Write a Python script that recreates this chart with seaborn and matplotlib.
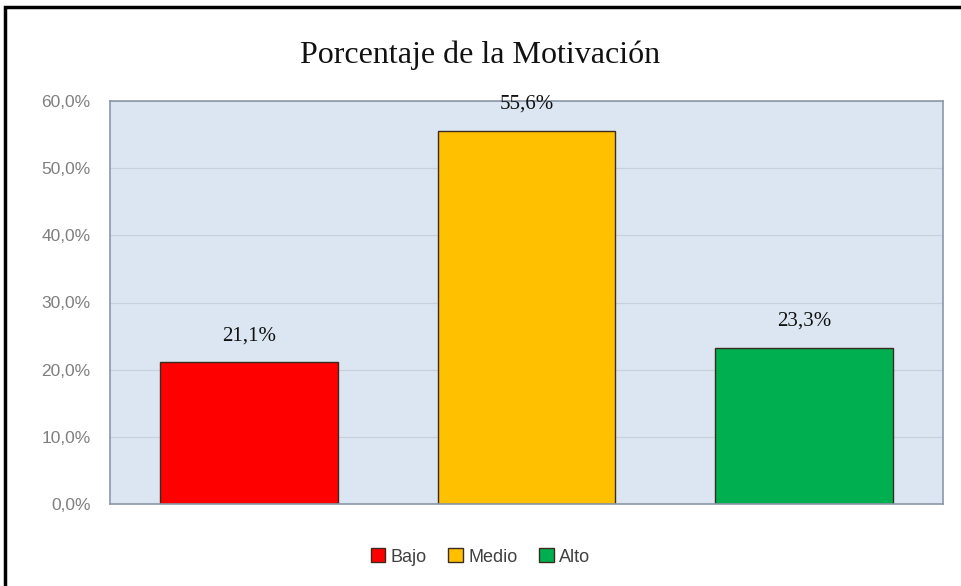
import pandas as pd
import matplotlib
matplotlib.use("Agg")
import matplotlib.pyplot as plt
from matplotlib.ticker import FuncFormatter, MultipleLocator
from matplotlib.patches import Rectangle
import seaborn as sns

# Data
niveles = ["Bajo", "Medio", "Alto"]
porcentajes = [21.1, 55.6, 23.3]
etiquetas = ["21,1%", "55,6%", "23,3%"]
colores = ["#FF0000", "#FFC000", "#00B050"]

data = pd.DataFrame({"Nivel": niveles, "Porcentaje": porcentajes})

sns.set_style("white")
plt.rcParams["font.family"] = ["Liberation Sans", "DejaVu Sans"]

fig = plt.figure(figsize=(9.61, 5.86), dpi=100)
ax = fig.add_axes([110 / 961, 82 / 586, 833 / 961, 403 / 586])

# Plot area background and grid
ax.set_facecolor("#DCE6F2")
ax.set_ylim(0, 60)
ax.yaxis.set_major_locator(MultipleLocator(10))
ax.grid(axis="y", color="#C8D0DA", linewidth=0.8)
ax.set_axisbelow(True)

sns.barplot(data=data, x="Nivel", y="Porcentaje", hue="Nivel",
            palette=colores, saturation=1, width=0.64, edgecolor="#3B2A20",
            linewidth=1.0, ax=ax, legend=True)

# Value labels above the bars
for cont, lab in zip(ax.containers, etiquetas):
    ax.bar_label(cont, labels=[lab], padding=12, fontsize=15,
                 family=["Liberation Serif", "DejaVu Serif"], color="#111111")

ax.yaxis.set_major_formatter(FuncFormatter(lambda v, p: f"{v:.1f}".replace(".", ",") + "%"))
ax.tick_params(axis="y", labelsize=12.5, labelcolor="#7F7F7F", length=0, pad=14)
ax.set_xticks([])
ax.set_xlabel("")
ax.set_ylabel("")
for s in ax.spines.values():
    s.set_color("#8A98A8")
    s.set_linewidth(1.2)

sns.move_legend(ax, "center", bbox_to_anchor=(0.5, 29 / 586),
                bbox_transform=fig.transFigure, ncol=3, frameon=False,
                title=None, fontsize=13, handlelength=0.8, handleheight=0.8,
                handletextpad=0.3, columnspacing=1.2)
for t in ax.get_legend().get_texts():
    t.set_color("#404040")

fig.text(0.5, 1 - 55 / 586, "Porcentaje de la Motivación", ha="center", va="center",
         fontsize=23, family=["Liberation Serif", "DejaVu Serif"], color="#111111")

# Outer frame (left and top edges visible)
fig.patches.append(Rectangle((5 / 961, -0.1), 1.2, 1 - 7 / 586 + 0.1,
                             transform=fig.transFigure, fill=False,
                             edgecolor="black", linewidth=2.5))

fig.savefig("out.png", dpi=100)
